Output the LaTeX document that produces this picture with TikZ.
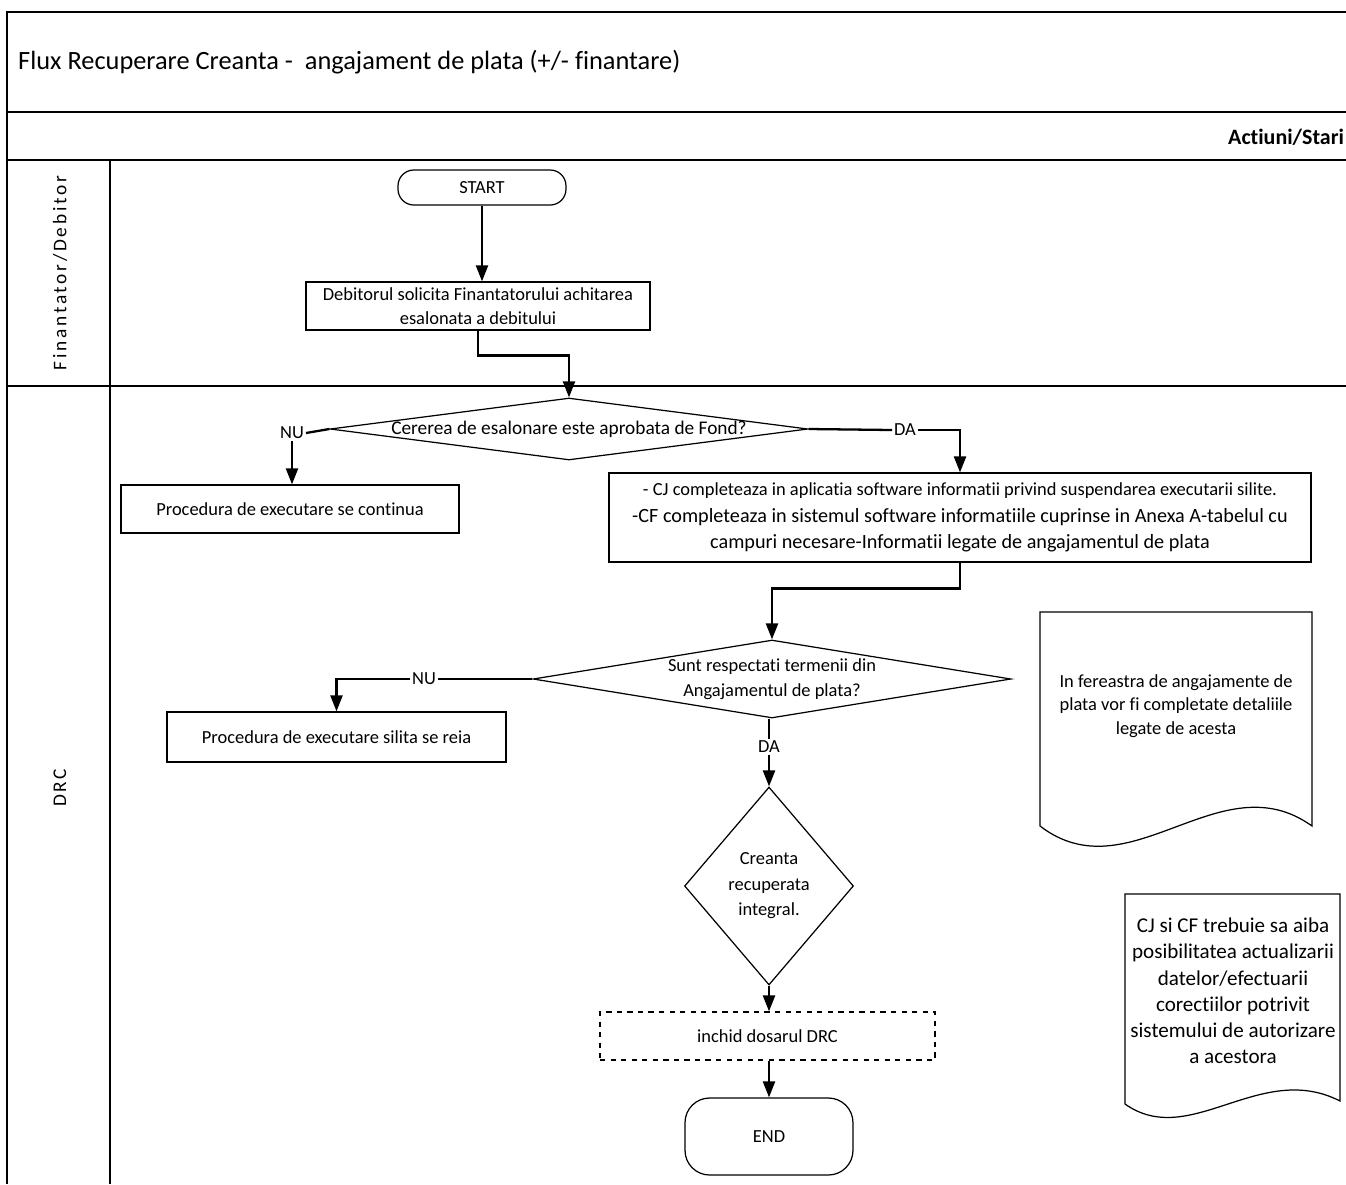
\documentclass[tikz,border=0pt]{standalone}
\usepackage{fontspec}
\setmainfont{Carlito}[Ligatures=NoCommon]
\newfontfamily\lanefont[LetterSpace=14]{Carlito}
\usetikzlibrary{shapes.geometric}
\usetikzlibrary{arrows.meta}

\tikzset{
  lane/.style={line width=0.8pt},
  conn/.style={line width=1.3pt},
  arr/.style={conn,-{Triangle[length=3.2mm,width=2.4mm]}},
  txt/.style={font=\fontsize{10.5}{14.5}\selectfont,align=center,inner sep=1pt},
  box/.style={draw,line width=0.7pt,txt,inner sep=0pt},
  term/.style={box,rounded corners=9pt},
  dec/.style={draw,diamond,line width=0.7pt,inner sep=0pt},
  note/.style={line width=0.7pt},
}

\begin{document}
\begin{tikzpicture}[x=0.02cm,y=-0.02cm]
\useasboundingbox (0,0) rectangle (1346,1184);

% frame and swimlanes
\draw[lane] (1346,12) -- (7,12) -- (7,1184);
\draw[lane] (7,112) -- (1346,112);
\draw[lane] (7,160) -- (1346,160);
\draw[lane] (7,386) -- (1346,386);
\draw[lane] (110,160) -- (110,1184);
\node[anchor=west,font=\fontsize{15}{18}\selectfont] (title) at (12,62) {Flux Recuperare Creanta -\ \ angajament de plata (+/- finantare)};
\node[anchor=west,font=\bfseries\fontsize{12.5}{16}\selectfont] (hdr) at (1222,137) {Actiuni/Stari};
\node[rotate=90,font=\lanefont\fontsize{11}{14}\selectfont] (laneFD) at (60,273) {Finantator/Debitor};
\node[rotate=90,font=\lanefont\fontsize{11}{14}\selectfont] (laneDRC) at (60,788) {DRC};

% Finantator/Debitor
\node[term,minimum width=3.36cm,minimum height=0.7cm] (start) at (482,187.5) {START};
\node[box,minimum width=6.88cm,minimum height=0.96cm,font=\fontsize{10.5}{13.5}\selectfont] (cerere) at (478,306) {Debitorul solicita Finantatorului achitarea\\esalonata a debitului};

% DRC
\node[dec,minimum width=9.56cm,minimum height=1.24cm,label={[txt,font=\fontsize{11}{14}\selectfont]center:Cererea de esalonare este aprobata de Fond?}] (q1) at (569,429) {};
\node[txt] (nu1) at (292,433) {NU};
\node[txt] (da1) at (905,430) {DA};
\node[box,minimum width=6.76cm,minimum height=0.96cm] (cont) at (290,509) {Procedura de executare se continua};
\node[box,minimum width=14.04cm,minimum height=1.78cm,font=\fontsize{11.5}{15}\selectfont] (susp) at (960,517.5) {{\fontsize{10.5}{15}\selectfont - CJ completeaza in aplicatia software informatii privind suspendarea executarii silite.}\\-CF completeaza in sistemul software informatiile cuprinse in Anexa A-tabelul cu\\campuri necesare-Informatii legate de angajamentul de plata};
\node[dec,minimum width=9.56cm,minimum height=1.56cm,label={[txt]center:Sunt respectati termenii din\\Angajamentul de plata?}] (q2) at (772,679) {};
\node[txt] (nu2) at (424,679) {NU};
\node[txt] (da2) at (769,747) {DA};
\node[box,minimum width=6.78cm,minimum height=1cm] (reia) at (336.5,737) {Procedura de executare silita se reia};
\node[dec,minimum width=3.38cm,minimum height=3.96cm,label={[txt]center:Creanta\\recuperata\\integral.}] (q3) at (769,886) {};
\node[box,dashed,minimum width=6.7cm,minimum height=0.96cm] (inchid) at (767.5,1036) {inchid dosarul DRC};
\node[term,rounded corners=14pt,minimum width=3.36cm,minimum height=1.54cm] (end) at (769,1136.5) {END};

% notes
\draw[note] (1040,826) -- (1040,612) -- (1312,612) -- (1312,826) .. controls (1220,760) and (1130,895) .. (1040,826);
\node[txt,font=\fontsize{10.5}{13.3}\selectfont] (nota1) at (1176,706) {In fereastra de angajamente de\\plata vor fi completate detaliile\\legate de acesta};
\draw[note] (1125,1104) -- (1125,894) -- (1340,894) -- (1340,1101) .. controls (1260,1060) and (1190,1150) .. (1125,1104);
\node[txt,font=\fontsize{12}{14.9}\selectfont] (nota2) at (1233,991) {CJ si CF trebuie sa aiba\\posibilitatea actualizarii\\datelor/efectuarii\\corectiilor potrivit\\sistemului de autorizare\\a acestora};

% connectors
\draw[arr] (start.south) -- (start.south |- cerere.north);
\draw[arr] (cerere.south) -- ++(0,25) -| (q1.north);
\draw[conn] (q1.west) -- (nu1.east);
\draw[arr] (nu1.south) -- (nu1.south |- cont.north);
\draw[conn] (q1.east) -- (da1.west);
\draw[arr] (da1.east) -| (susp.north);
\draw[arr] (susp.south) -- ++(0,26) -| (q2.north);
\draw[conn] (q2.west) -- (nu2.east);
\draw[arr] (nu2.west) -| (reia.north);
\draw[conn] (da2.north |- q2.south) -- (da2.north);
\draw[arr] (da2.south) -- (q3.north);
\draw[arr] (q3.south) -- (q3.south |- inchid.north);
\draw[arr] (q3.south |- inchid.south) -- (q3.south |- end.north);

\end{tikzpicture}
\end{document}
